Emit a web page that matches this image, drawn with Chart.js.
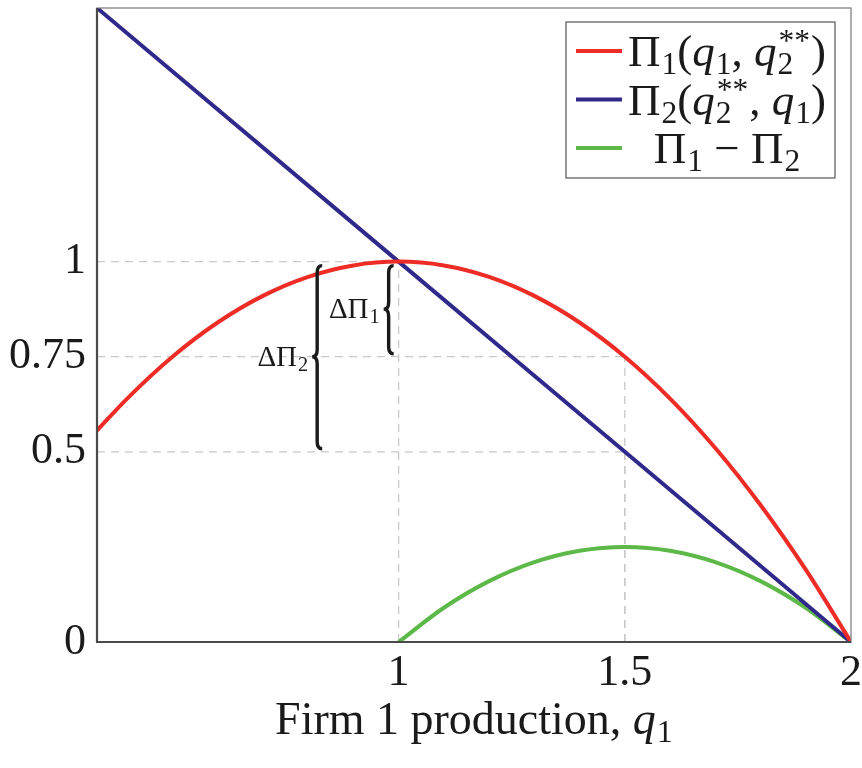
<!DOCTYPE html>
<html>
<head>
<meta charset="utf-8">
<script src="https://cdn.jsdelivr.net/npm/chart.js@4.4.0/dist/chart.umd.min.js"></script>
<style>
  html, body { margin: 0; padding: 0; background: #fff; }
</style>
</head>
<body>
<canvas id="profits" width="862" height="768"></canvas>
<script>
// values
const q1Curve = [0.3333, 0.4, 0.5, 0.6, 0.7, 0.8, 0.9, 1.0, 1.1, 1.2, 1.3, 1.4, 1.5, 1.6, 1.7, 1.8, 1.9, 2.0];
const profit1 = [0.556, 0.64, 0.75, 0.84, 0.91, 0.96, 0.99, 1.0, 0.99, 0.96, 0.91, 0.84, 0.75, 0.64, 0.51, 0.36, 0.19, 0];
const q1Line = [0.3333, 1.0, 1.5, 2.0];
const profit2 = [1.6667, 1.0, 0.5, 0];
const q1Diff = [1.0, 1.1, 1.2, 1.3, 1.4, 1.5, 1.6, 1.7, 1.8, 1.9, 2.0];
const profitDiff = [0, 0.09, 0.16, 0.21, 0.24, 0.25, 0.24, 0.21, 0.16, 0.09, 0];

const xTicks = [1, 1.5, 2];
const yTicks = [0, 0.5, 0.75, 1];
const seriesNames = ['Π1(q1, q2**)', 'Π2(q2**, q1)', 'Π1 − Π2'];
const seriesColors = ['#ec2c25', '#30298b', '#5cb947'];

// dashed guides: [x, y] corner points
const guides = [[1, 1], [1.5, 0.75], [1.5, 0.5]];
// braces: x position, y span, cusp y
const braces = [
  { label: 'ΔΠ', sub: '2', x: 0.82, from: 1, to: 0.5, mid: 0.75 },
  { label: 'ΔΠ', sub: '1', x: 0.978, from: 1, to: 0.75, mid: 0.875 }
];

// rich text pieces: [text, kind, superscript]
const legendText = [
  [['Π'], ['1', 'sub'], ['('], ['q', 'it'], ['1', 'sub'], [', '], ['q', 'it'], ['2', 'sub', '**'], [')']],
  [['Π'], ['2', 'sub'], ['('], ['q', 'it'], ['2', 'sub', '**'], [', '], ['q', 'it'], ['1', 'sub'], [')']],
  [['Π'], ['1', 'sub'], [' − '], ['Π'], ['2', 'sub']]
];
const axisTitle = [['Firm 1 production, '], ['q', 'it'], ['1', 'sub']];

const FONT = '"Liberation Serif", "DejaVu Serif", serif';

function rich(ctx, segs, x, y, size, draw) {
  segs.forEach(([t, kind, sup]) => {
    if (kind === 'sub') {
      ctx.font = (size * 0.7) + 'px ' + FONT;
      let w = ctx.measureText(t).width;
      if (draw) ctx.fillText(t, x + 1, y + size * 0.18);
      if (sup) {
        if (draw) ctx.fillText(sup, x + 2, y - size * 0.33);
        w = Math.max(w, ctx.measureText(sup).width + 2);
      }
      x += w + 1;
    } else {
      ctx.font = (kind === 'it' ? 'italic ' : '') + size + 'px ' + FONT;
      if (draw) ctx.fillText(t, x, y);
      x += ctx.measureText(t).width;
    }
  });
  return x;
}

function drawBrace(ctx, x, top, bottom, mid) {
  const d = 5, r = 7;
  ctx.beginPath();
  ctx.moveTo(x + d, top);
  ctx.quadraticCurveTo(x, top, x, top + r);
  ctx.lineTo(x, mid - r);
  ctx.quadraticCurveTo(x, mid, x - d, mid);
  ctx.quadraticCurveTo(x, mid, x, mid + r);
  ctx.lineTo(x, bottom - r);
  ctx.quadraticCurveTo(x, bottom, x + d, bottom);
  ctx.stroke();
}

const decor = {
  id: 'decor',
  beforeDatasetsDraw(chart) {
    const { ctx, chartArea: a, scales: { x, y } } = chart;
    ctx.save();
    ctx.strokeStyle = '#c9c9c9';
    ctx.lineWidth = 1.3;
    ctx.setLineDash([8, 6]);
    guides.forEach(([gx, gy]) => {
      const px = x.getPixelForValue(gx), py = y.getPixelForValue(gy);
      ctx.beginPath();
      ctx.moveTo(a.left, py); ctx.lineTo(px, py);
      ctx.moveTo(px, a.bottom); ctx.lineTo(px, py);
      ctx.stroke();
    });
    ctx.restore();
  },
  afterDatasetsDraw(chart) {
    const { ctx, chartArea: a, scales: { x, y } } = chart;
    ctx.save();
    // frame
    ctx.strokeStyle = '#777';
    ctx.lineWidth = 1.2;
    ctx.strokeRect(a.left, a.top, a.right - a.left, a.bottom - a.top);
    ctx.strokeStyle = '#4a4a4a';
    ctx.lineWidth = 2.2;
    ctx.beginPath();
    ctx.moveTo(a.left, a.top); ctx.lineTo(a.left, a.bottom); ctx.lineTo(a.right, a.bottom);
    ctx.stroke();

    // braces + labels
    ctx.strokeStyle = '#1a1a1a';
    ctx.fillStyle = '#1a1a1a';
    ctx.lineWidth = 3.4;
    ctx.textBaseline = 'alphabetic';
    braces.forEach(b => {
      const px = x.getPixelForValue(b.x);
      const top = y.getPixelForValue(b.from) + 4;
      const bottom = y.getPixelForValue(b.to) - 3;
      const mid = y.getPixelForValue(b.mid);
      drawBrace(ctx, px, top, bottom, mid);
      const segs = [[b.label], [b.sub, 'sub']];
      const w = rich(ctx, segs, 0, 0, 29, false);
      rich(ctx, segs, px - 9 - w, mid + 9, 29, true);
    });

    // legend
    const lx = 566, ly = 22, lw = 269, lh = 156;
    ctx.fillStyle = '#fff';
    ctx.fillRect(lx, ly, lw, lh);
    ctx.strokeStyle = '#555';
    ctx.lineWidth = 1.2;
    ctx.strokeRect(lx, ly, lw, lh);
    legendText.forEach((segs, i) => {
      const cy = 51 + i * 48.5;
      ctx.strokeStyle = seriesColors[i];
      ctx.lineWidth = 4;
      ctx.beginPath();
      ctx.moveTo(576, cy); ctx.lineTo(622, cy);
      ctx.stroke();
      ctx.fillStyle = '#1a1a1a';
      const w = rich(ctx, segs, 0, 0, 45, false);
      rich(ctx, segs, 727 - w / 2, cy + 15, 45, true);
    });

    // axis title
    const tw = rich(ctx, axisTitle, 0, 0, 46, false);
    rich(ctx, axisTitle, (a.left + a.right) / 2 - tw / 2, 734, 46, true);
    ctx.restore();
  }
};

const toPoints = (xs, ys) => xs.map((v, i) => ({ x: v, y: ys[i] }));
const noPad = s => { s.paddingLeft = 0; s.paddingRight = 0; s.paddingTop = 0; s.paddingBottom = 0; };

new Chart(document.getElementById('profits'), {
  type: 'scatter',
  data: {
    datasets: [
      { label: seriesNames[0], data: toPoints(q1Curve, profit1), borderColor: seriesColors[0] },
      { label: seriesNames[1], data: toPoints(q1Line, profit2), borderColor: seriesColors[1] },
      { label: seriesNames[2], data: toPoints(q1Diff, profitDiff), borderColor: seriesColors[2] }
    ].map(d => Object.assign(d, {
      showLine: true, pointRadius: 0, borderWidth: 4, cubicInterpolationMode: 'monotone', fill: false
    }))
  },
  options: {
    responsive: false,
    animation: false,
    layout: { padding: { top: 8, right: 11, left: 0, bottom: 0 } },
    plugins: { legend: { display: false }, tooltip: { enabled: false } },
    scales: {
      x: {
        type: 'linear', min: 0.3333, max: 2,
        grid: { display: false, drawTicks: false },
        border: { display: false },
        afterBuildTicks: s => { s.ticks = xTicks.map(v => ({ value: v })); },
        afterFit: s => { s.height = 126; noPad(s); },
        ticks: { color: '#1a1a1a', padding: 5, maxRotation: 0, callback: v => String(v), font: { family: FONT, size: 44 } }
      },
      y: {
        type: 'linear', min: 0, max: 1.6667,
        grid: { display: false, drawTicks: false },
        border: { display: false },
        afterBuildTicks: s => { s.ticks = yTicks.map(v => ({ value: v })); },
        afterFit: s => { s.width = 97; noPad(s); },
        ticks: { color: '#1a1a1a', padding: 11, callback: v => String(v), font: { family: FONT, size: 44 } }
      }
    }
  },
  plugins: [decor]
});
</script>
</body>
</html>
